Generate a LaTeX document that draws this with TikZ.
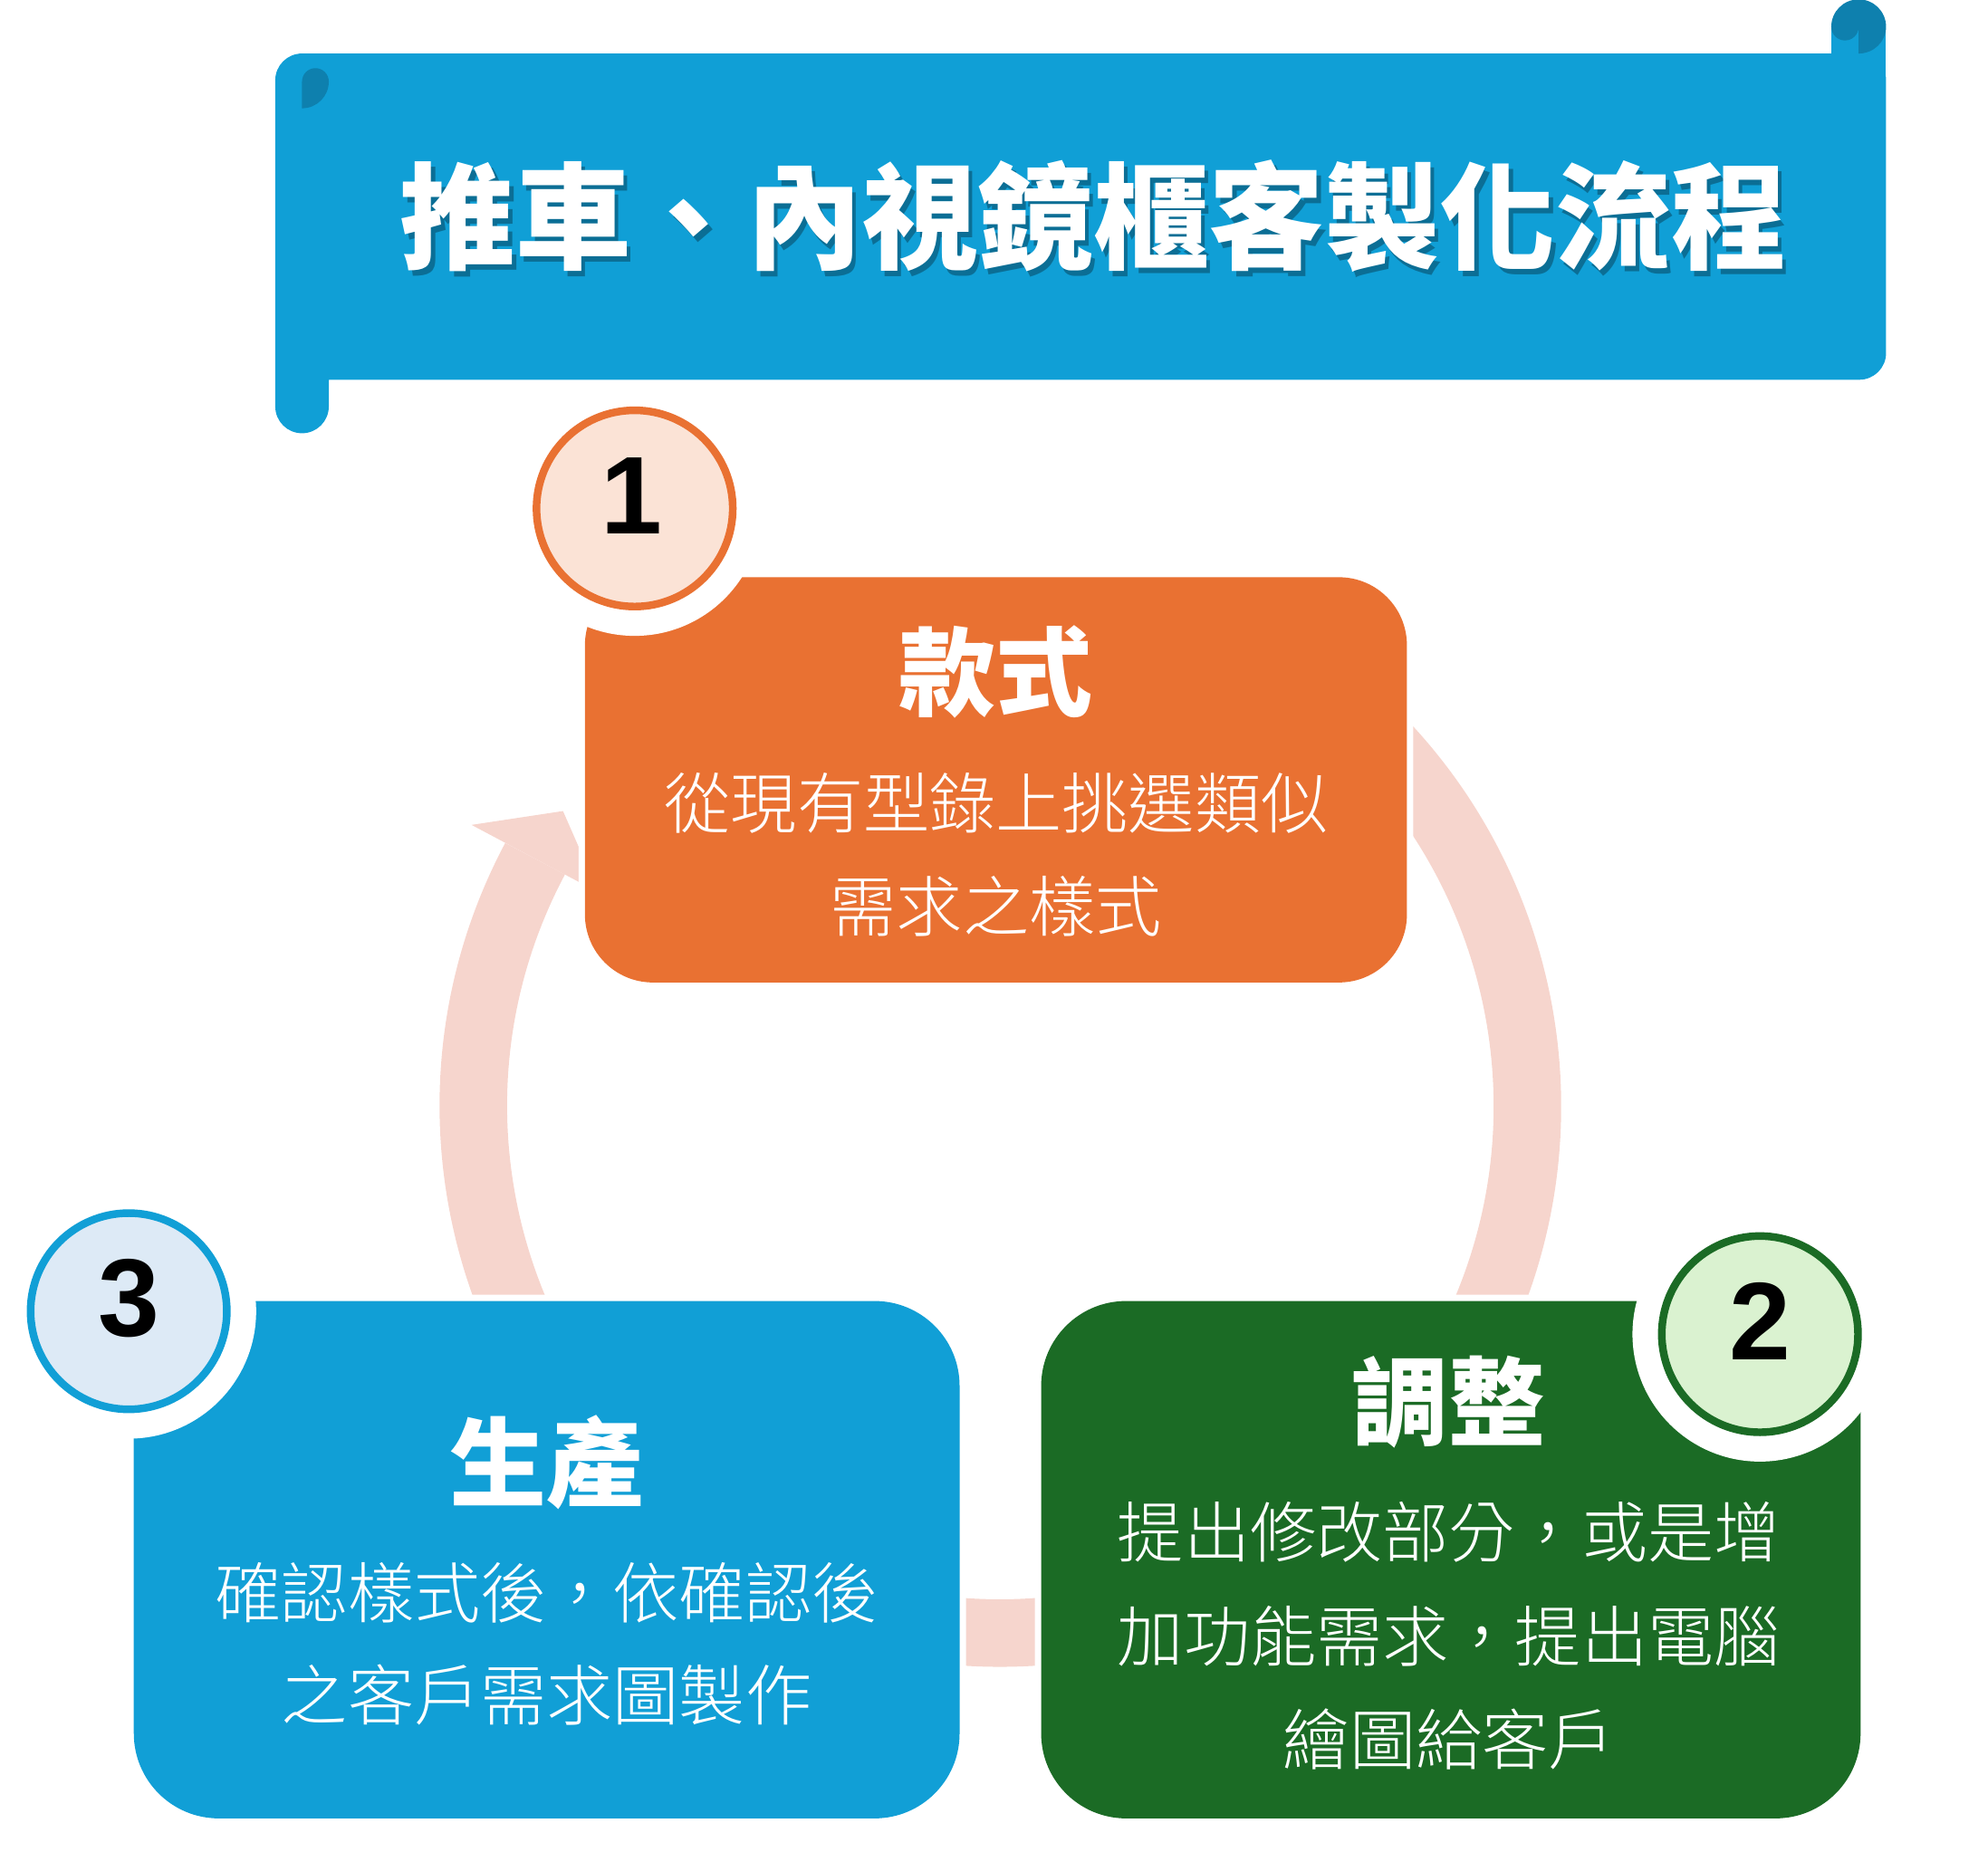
\documentclass[tikz,border=0pt]{standalone}
\usepackage{fontspec}
\newfontfamily\cjkfont{Noto Sans CJK TC}
\newfontfamily\cjklight{Noto Sans CJK TC Light}
\newfontfamily\cjkblack{Noto Sans CJK TC Black}
\newfontfamily\numfont{Liberation Sans}
\definecolor{bannerblue}{HTML}{109FD6}
\definecolor{curlblue}{HTML}{0E80AE}
\definecolor{stageorange}{HTML}{E97132}
\definecolor{stagegreen}{HTML}{1B6B25}
\definecolor{stageblue}{HTML}{119FD6}
\definecolor{ringpink}{HTML}{F6D5CD}
\definecolor{fillone}{HTML}{FBE3D6}
\definecolor{filltwo}{HTML}{DAF2D0}
\definecolor{fillthree}{HTML}{DDEAF6}
\tikzset{
  whiteedge/.style={preaction={draw=white,line width=7.5pt}},
  ringband/.style={draw=ringpink,line width=39.75pt},
  numring/.style={line width=4.5pt},
  numtext/.style={text=black,inner sep=0pt,font=\numfont\bfseries\fontsize{65}{65}\selectfont},
  titletext/.style={text=white,inner sep=0pt,font=\cjkblack\fontsize{68}{68}\selectfont},
  stagetitle/.style={text=white,inner sep=0pt,font=\cjkfont\bfseries\fontsize{57}{57}\selectfont},
  stagebody/.style={text=white,inner sep=0pt,font=\cjklight\fontsize{39}{39}\selectfont}
}
\begin{document}
\begin{tikzpicture}[x=0.75pt,y=0.75pt,yscale=-1,xscale=1]
 \useasboundingbox (0,0) rectangle (1560,1452.7);
 % banner
 \fill[bannerblue] (1437,21) rectangle (1480,60);
 \fill[bannerblue] (216,319) [rounded corners=15.75pt] -- (216,42) -- (1480,42) -- (1480,298) [sharp corners] -- (258,298) -- (258,319) arc[start angle=0,end angle=180,radius=21] -- cycle;
 \fill[curlblue] (1437,21) arc[start angle=180,end angle=360,radius=21.5] arc[start angle=0,end angle=90,x radius=21.5,y radius=21] -- (1458.5,21) arc[start angle=0,end angle=180,radius=10.75] -- cycle;
 \fill[curlblue] (237,85) -- (237,64) arc[start angle=180,end angle=360,radius=10.5] arc[start angle=0,end angle=90,radius=21] -- cycle;
 \node[titletext,text=black,opacity=0.3] (titleshade) at (861,174) {推車、內視鏡櫃客製化流程};
 \node[titletext] (title) at (858,170) {推車、內視鏡櫃客製化流程};

 % cycle arrow
 \draw[ringband] (785,868) ++(-152:413.5) arc[start angle=-152,end angle=-420,radius=413.5];
 \fill[ringpink,shift={(785,868)}] (-152:470) -- (-146:414) -- (-152:357) -- cycle;

 \fill[stageorange,whiteedge,rounded corners=40pt] (459,453) rectangle (1104,771);
 \fill[stageblue,whiteedge,rounded corners=50pt] (105,1021) rectangle (753,1427);
 \fill[stagegreen,whiteedge,rounded corners=50pt] (817,1021) rectangle (1460,1427);

 \fill[white] (498,399) circle (100);
 \fill[white] (1381,1047) circle (100);
 \fill[white] (101,1029) circle (100);
 \draw[numring,draw=stageorange,fill=fillone] (498,399) circle (77);
 \draw[numring,draw=stagegreen,fill=filltwo] (1381,1047) circle (77);
 \draw[numring,draw=stageblue,fill=fillthree] (101,1029) circle (77);
 \node[numtext] (one) at (496,389) {1};
 \node[numtext] (two) at (1381,1037) {2};
 \node[numtext] (three) at (101,1019) {3};

 \node[stagetitle] (kuanshi) at (781.5,527) {款式};
 \node[stagebody] (kuanshiA) at (781.5,630) {從現有型錄上挑選類似};
 \node[stagebody] (kuanshiB) at (781.5,711) {需求之樣式};

 \node[stagetitle] (tiaozheng) at (1137,1100) {調整};
 \node[stagebody] (tiaozhengA) at (1137,1202) {提出修改部分，或是增};
 \node[stagebody] (tiaozhengB) at (1137,1284) {加功能需求，提出電腦};
 \node[stagebody] (tiaozhengC) at (1137,1365) {繪圖給客戶};

 \node[stagetitle] (shengchan) at (429,1148) {生產};
 \node[stagebody] (shengchanA) at (429,1250) {確認樣式後，依確認後};
 \node[stagebody] (shengchanB) at (429,1330) {之客戶需求圖製作};
\end{tikzpicture}
\end{document}
